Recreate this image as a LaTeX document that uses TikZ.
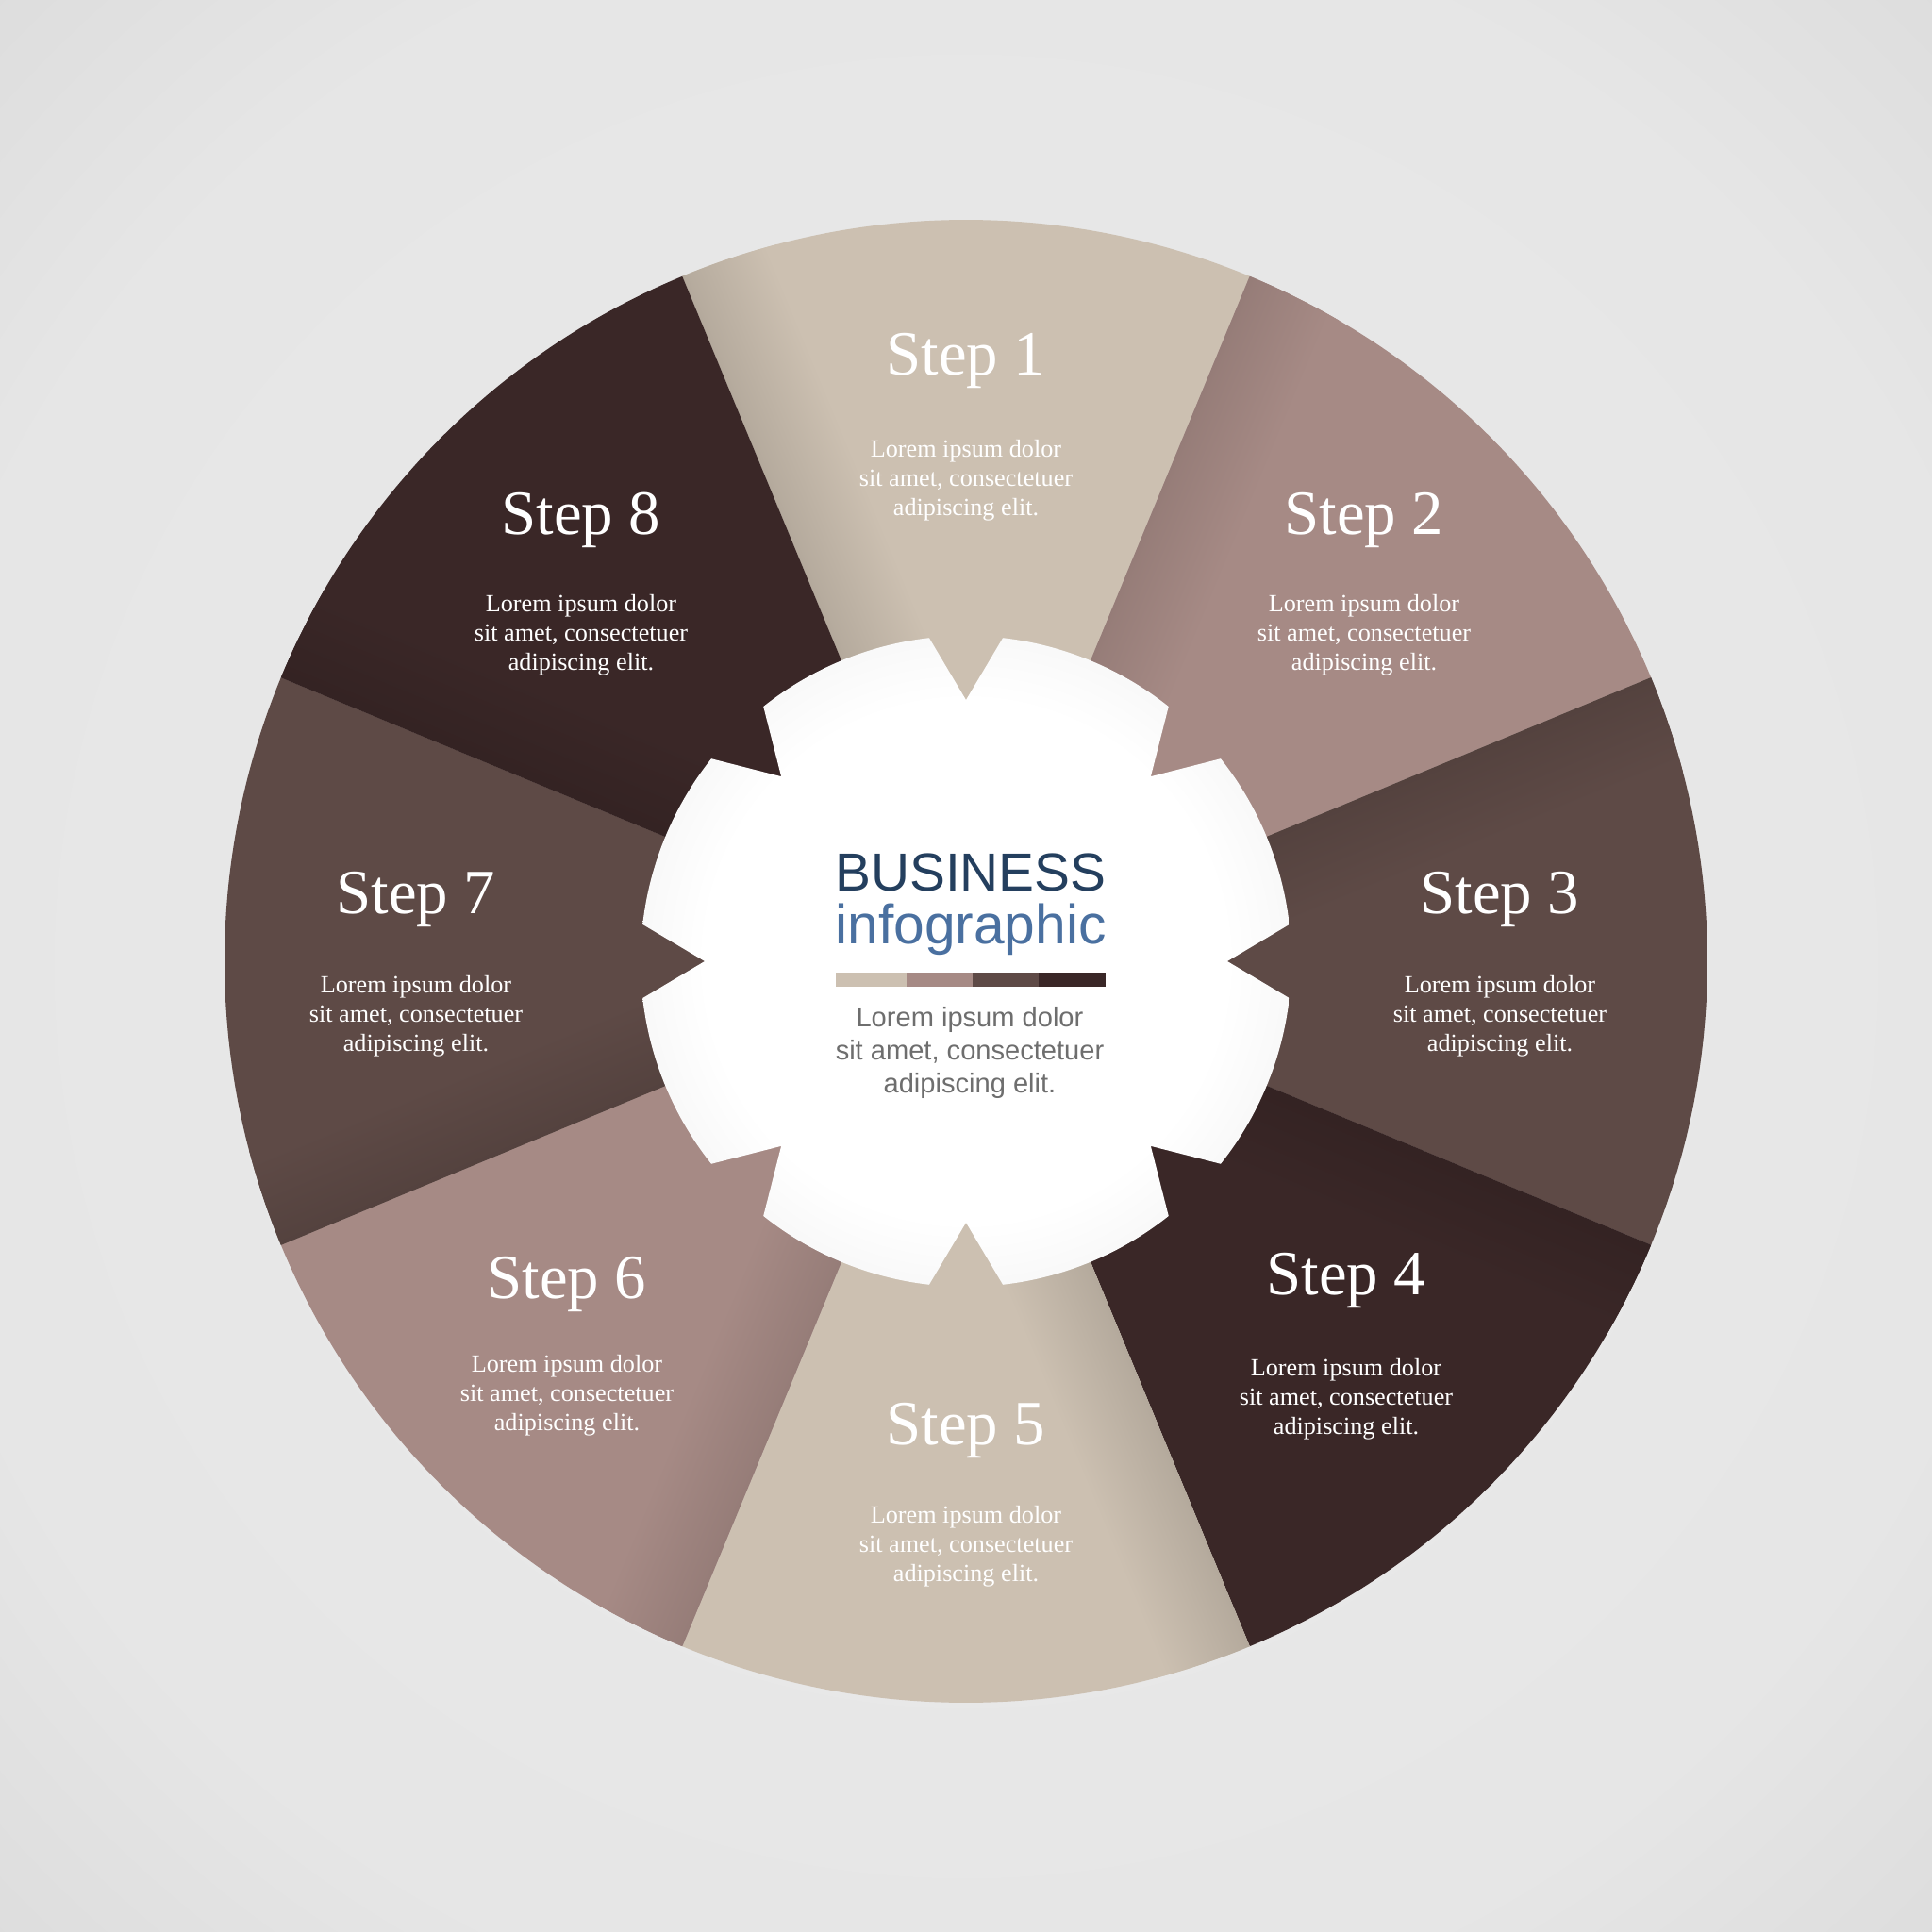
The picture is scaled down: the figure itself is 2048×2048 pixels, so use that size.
\documentclass[tikz,border=0pt]{standalone}
\usepackage{fontspec}
\setmainfont{Liberation Serif}
\newfontfamily\sansf{Liberation Sans}
\definecolor{cBeige}{HTML}{CCC0B1}
\definecolor{cMauve}{HTML}{A68A85}
\definecolor{cBrown}{HTML}{5E4A46}
\definecolor{cDark}{HTML}{3A2727}
\colorlet{cBeigeD}{cBeige!76!black}
\colorlet{cMauveD}{cMauve!80!black}
\colorlet{cBrownD}{cBrown!78!black}
\colorlet{cDarkD}{cDark!78!black}
\colorlet{cBeigeM}{cBeige!55!cBeigeD}
\colorlet{cMauveM}{cMauve!55!cMauveD}
\colorlet{cBrownM}{cBrown!55!cBrownD}
\colorlet{cDarkM}{cDark!55!cDarkD}
\definecolor{cNavy}{HTML}{243F5E}
\definecolor{cBlue}{HTML}{4A70A0}
\definecolor{cGrayT}{HTML}{6E6E6E}
% vertical shadings are fitted to the band height (0bp = far side, 100bp = boundary)
\pgfdeclareverticalshading{shcBeige}{100bp}{color(0bp)=(cBeige); color(30bp)=(cBeige); color(72bp)=(cBeigeM); color(100bp)=(cBeigeD)}
\pgfdeclareverticalshading{shcMauve}{100bp}{color(0bp)=(cMauve); color(30bp)=(cMauve); color(72bp)=(cMauveM); color(100bp)=(cMauveD)}
\pgfdeclareverticalshading{shcBrown}{100bp}{color(0bp)=(cBrown); color(30bp)=(cBrown); color(72bp)=(cBrownM); color(100bp)=(cBrownD)}
\pgfdeclareverticalshading{shcDark}{100bp}{color(0bp)=(cDark); color(30bp)=(cDark); color(72bp)=(cDarkM); color(100bp)=(cDarkD)}
% radial: 50bp <-> half-diagonal of the bounding box
\pgfdeclareradialshading{bgsh}{\pgfpoint{0bp}{0bp}}{rgb(0bp)=(0.925,0.925,0.925); rgb(28bp)=(0.9,0.9,0.9); rgb(35.4bp)=(0.868,0.868,0.868); rgb(50bp)=(0.84,0.84,0.84)}
\pgfdeclareradialshading{gearsh}{\pgfpoint{0bp}{0bp}}{rgb(0bp)=(1,1,1); rgb(20bp)=(1,1,1); rgb(26bp)=(0.97,0.97,0.97); rgb(31bp)=(0.91,0.91,0.91); rgb(35.4bp)=(0.82,0.82,0.82); rgb(50bp)=(0.82,0.82,0.82)}
\tikzset{
  head/.style={text=white, font=\fontsize{19}{22}\selectfont, inner sep=0pt, anchor=base},
  body/.style={text=white, font=\fontsize{7.45}{8.8}\selectfont, align=center, inner sep=0pt, anchor=north},
}
\begin{document}
\begin{tikzpicture}[x=0.01cm,y=0.01cm]
\useasboundingbox (-1024,-1029) rectangle (1024,1019);
\shade[shading=bgsh] (-1024,-1029) rectangle (1024,1019);
% sectors
\foreach \k/\col in {1/cBeige,2/cMauve,3/cBrown,4/cDark,5/cBeige,6/cMauve,7/cBrown,8/cDark} {
  \pgfmathsetmacro\c{90-45*(\k-1)}
  \pgfmathsetmacro\s{\c-22.5}
  \pgfmathsetmacro\e{\c+22.5}
  \fill[\col] (0,0) -- (\s:786) arc[start angle=\s, end angle=\e, radius=786] -- cycle;
  \begin{scope}
    \clip (0,0) -- (\s:786) arc[start angle=\s, end angle=\e, radius=786] -- cycle;
    \begin{scope}[transform canvas={rotate=\e}]
      \shade[shading=sh\col] (0,-105) rectangle (800,0);
    \end{scope}
  \end{scope}
}
% central gear
\begin{scope}
  \clip (-6.5:345) \foreach \a in {0,45,...,315} { -- (\a:277) -- (\a+6.5:345) arc[start angle=\a+6.5, end angle=\a+38.5, radius=345] } -- cycle;
  \shade[shading=gearsh] (0,0) circle (345);
\end{scope}
% step labels
\node[head] (h1) at (0,621) {Step 1};
\node[head] (h2) at (422,452) {Step 2};
\node[head] (h3) at (566,51) {Step 3};
\node[head] (h4) at (403,-353) {Step 4};
\node[head] (h5) at (0,-512) {Step 5};
\node[head] (h6) at (-423,-357) {Step 6};
\node[head] (h7) at (-583,51) {Step 7};
\node[head] (h8) at (-408,452) {Step 8};
\node[body] (b1) at (0,553) {Lorem ipsum dolor\\sit amet, consectetuer\\adipiscing elit.};
\node[body] (b2) at (422,389) {Lorem ipsum dolor\\sit amet, consectetuer\\adipiscing elit.};
\node[body] (b3) at (566,-15) {Lorem ipsum dolor\\sit amet, consectetuer\\adipiscing elit.};
\node[body] (b4) at (403,-421) {Lorem ipsum dolor\\sit amet, consectetuer\\adipiscing elit.};
\node[body] (b5) at (0,-577) {Lorem ipsum dolor\\sit amet, consectetuer\\adipiscing elit.};
\node[body] (b6) at (-423,-417) {Lorem ipsum dolor\\sit amet, consectetuer\\adipiscing elit.};
\node[body] (b7) at (-583,-15) {Lorem ipsum dolor\\sit amet, consectetuer\\adipiscing elit.};
\node[body] (b8) at (-408,389) {Lorem ipsum dolor\\sit amet, consectetuer\\adipiscing elit.};
% center
\node[font=\sansf\fontsize{16.15}{18}\selectfont, text=cNavy, anchor=base, inner sep=0pt] (business) at (5,74) {BUSINESS};
\node[font=\sansf\fontsize{16.7}{18}\selectfont, text=cBlue, anchor=base, inner sep=0pt] (infog) at (5,19) {infographic};
\fill[cBeige] (-138,-27) rectangle (-63,-12);
\fill[cMauve] (-63,-27) rectangle (7,-12);
\fill[cBrown] (7,-27) rectangle (77,-12);
\fill[cDark] (77,-27) rectangle (148,-12);
\node[font=\sansf\fontsize{8.27}{9.96}\selectfont, text=cGrayT, align=center, anchor=north, inner sep=0pt] (ctext) at (4,-48) {Lorem ipsum dolor\\sit amet, consectetuer\\adipiscing elit.};
\end{tikzpicture}
\end{document}
